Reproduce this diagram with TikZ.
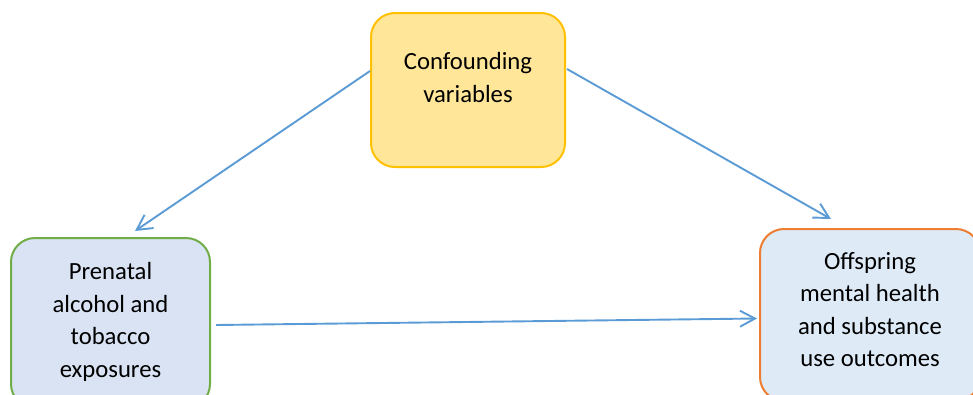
\documentclass[tikz,border=0pt]{standalone}
\usepackage{fontspec}
\setmainfont{Carlito}
\usetikzlibrary{arrows.meta,calc}

\definecolor{linkblue}{HTML}{5B9BD5}
\definecolor{confill}{HTML}{FFE699}
\definecolor{condraw}{HTML}{FFC000}
\definecolor{expfill}{HTML}{DAE3F3}
\definecolor{expdraw}{HTML}{70AD47}
\definecolor{outfill}{HTML}{DEEBF7}
\definecolor{outdraw}{HTML}{ED7D31}

\tikzset{
  box/.style={draw, line width=2pt, rounded corners=24pt, inner sep=0pt},
  boxtext/.style={align=center, inner sep=0pt,
    font=\fontsize{24.7pt}{32.5pt}\selectfont},
  link/.style={draw=linkblue, line width=1.9pt,
    -{Straight Barb[length=15pt,width=16pt,line width=1.9pt]}},
}

\begin{document}
\begin{tikzpicture}[x=1pt,y=-1pt]
\useasboundingbox (0,0) rectangle (973,394);
\clip (0,0) rectangle (973,394);

% boxes
\node[box, fill=confill, draw=condraw, minimum width=194pt, minimum height=154pt]
  (conf) at (468,90) {};
\node[box, fill=expfill, draw=expdraw, minimum width=199pt, minimum height=170pt]
  (expo) at (110.5,323) {};
\node[box, fill=outfill, draw=outdraw, minimum width=220pt, minimum height=172pt]
  (outc) at (870,315) {};

% texts
\node[boxtext] (conftxt) at (468,77.5) {Confounding\\variables};
\node[boxtext] (expotxt) at (110.5,322) {Prenatal\\alcohol and\\tobacco\\exposures};
\node[boxtext] (outctxt) at (870,309.5) {Offspring\\mental health\\and substance\\use outcomes};

% connector ends
\coordinate (c1s) at ($(conf.west)+(0,-19)$);
\coordinate (c1e) at ($(expo.north)+(24.5,-6)$);
\coordinate (c2s) at ($(conf.east)+(1,-21)$);
\coordinate (c2e) at ($(outc.north west)+(72,-9)$);
\coordinate (c3s) at ($(expo.east)+(5,2)$);
\coordinate (c3e) at ($(outc.west)+(-2,3.5)$);

\draw[link] (c1s) -- (c1e);
\draw[link] (c2s) -- (c2e);
\draw[link] (c3s) -- (c3e);
\end{tikzpicture}
\end{document}
